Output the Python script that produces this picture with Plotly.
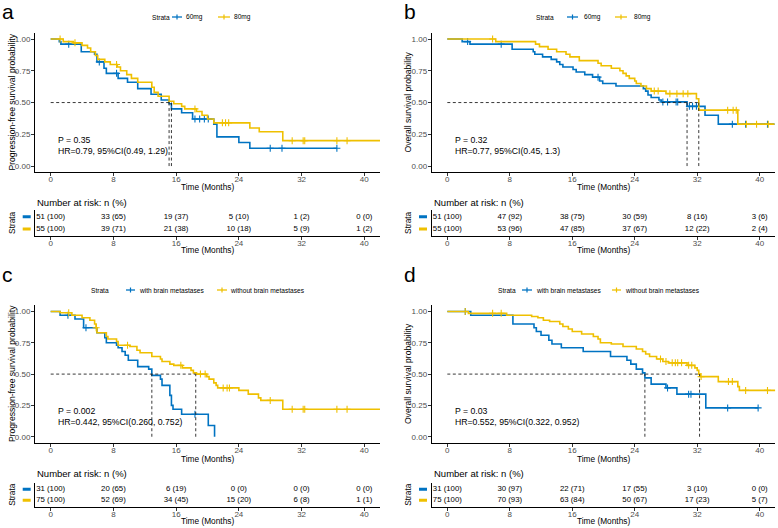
import plotly.graph_objects as go

W, H = 778, 528
BLUE = "#0073C2"
YELLOW = "#EFC000"
FONT = "Liberation Sans, Arial, sans-serif"

time_ticks = [0, 8, 16, 24, 32, 40]
surv_ticks = [0, 0.25, 0.5, 0.75, 1.0]

# ---------------- Panel a : PFS by dose ----------------
a_blue_t = [0, 1.1, 1.3, 3.9, 5.6, 5.9, 6.8, 7.1, 8.6, 9.8, 11.1, 12.8, 14.1, 15.1, 15.4, 16.7, 18.1, 20.8, 21.2, 24.0, 25.4, 36.5]
a_blue_s = [1, 0.98, 0.96, 0.90, 0.88, 0.82, 0.77, 0.73, 0.69, 0.66, 0.61, 0.565, 0.52, 0.49, 0.45, 0.42, 0.37, 0.33, 0.23, 0.185, 0.14, 0.14]
a_blue_c = [2.3, 6.2, 8.4, 18.4, 19.0, 19.6, 20.1, 28.0, 29.5, 36.5]
a_yel_t = [0, 1.6, 2.9, 4.0, 4.7, 5.1, 5.7, 6.0, 6.9, 7.6, 8.5, 8.9, 9.7, 10.3, 11.1, 12.9, 13.2, 13.7, 15.1, 15.7, 16.7, 17.1, 18.6, 19.3, 20.0, 20.8, 25.4, 26.6, 29.6, 42.0]
a_yel_s = [1, 0.98, 0.97, 0.95, 0.93, 0.90, 0.87, 0.84, 0.82, 0.80, 0.78, 0.75, 0.72, 0.69, 0.66, 0.62, 0.58, 0.55, 0.51, 0.49, 0.47, 0.45, 0.43, 0.40, 0.37, 0.34, 0.30, 0.27, 0.20, 0.20]
a_yel_c = [1.2, 3.1, 8.4, 18.4, 21.9, 22.3, 22.7, 30.8, 32.2, 32.4, 36.5, 37.8]
a_medians = [15.1, 15.4]
a_risk_blue = [51, 33, 19, 5, 1, 0]
a_pct_blue = [100, 65, 37, 10, 2, 0]
a_risk_yel = [55, 39, 21, 10, 5, 1]
a_pct_yel = [100, 71, 38, 18, 9, 2]

# ---------------- Panel b : OS by dose ----------------
b_blue_t = [0, 1.9, 2.9, 8.3, 11.0, 11.2, 12.2, 13.3, 14.0, 14.4, 14.8, 16.1, 16.5, 17.6, 18.6, 19.5, 19.9, 21.6, 25.1, 25.4, 25.7, 26.1, 27.1, 27.4, 30.7, 33.0, 34.7, 41.9]
b_blue_s = [1, 0.98, 0.96, 0.92, 0.90, 0.88, 0.86, 0.84, 0.82, 0.80, 0.78, 0.76, 0.74, 0.72, 0.70, 0.67, 0.65, 0.63, 0.61, 0.59, 0.56, 0.54, 0.52, 0.505, 0.47, 0.40, 0.33, 0.33]
b_blue_c = [2.6, 6.9, 19.3, 27.6, 28.2, 29.3, 29.5, 31.0, 31.4, 31.9, 36.5, 38.2, 41.0]
b_yel_t = [0, 6.2, 11.3, 11.8, 12.9, 14.0, 15.2, 15.7, 16.9, 19.3, 19.7, 21.0, 22.1, 22.5, 22.9, 23.3, 24.0, 24.2, 24.8, 25.5, 26.1, 28.0, 31.9, 32.2, 37.2, 41.9]
b_yel_s = [1, 0.98, 0.96, 0.94, 0.92, 0.90, 0.88, 0.86, 0.83, 0.81, 0.79, 0.77, 0.75, 0.73, 0.71, 0.69, 0.67, 0.65, 0.63, 0.61, 0.59, 0.57, 0.53, 0.44, 0.33, 0.33]
b_yel_c = [5.8, 26.5, 27.0, 28.5, 29.4, 30.2, 30.8, 35.9, 36.6, 37.0, 38.3, 39.6, 41.1]
b_medians = [30.7, 32.2]
b_risk_blue = [51, 47, 38, 30, 8, 3]
b_pct_blue = [100, 92, 75, 59, 16, 6]
b_risk_yel = [55, 53, 47, 37, 12, 2]
b_pct_yel = [100, 96, 85, 67, 22, 4]

# ---------------- Panel c : PFS by brain metastases ----------------
c_blue_t = [0, 1.2, 3.1, 4.2, 5.9, 6.9, 7.1, 8.4, 8.6, 9.1, 9.5, 9.9, 11.1, 12.5, 12.9, 14.0, 14.2, 15.2, 15.4, 15.6, 16.7, 20.1, 20.9]
c_blue_s = [1, 0.97, 0.94, 0.87, 0.83, 0.79, 0.75, 0.73, 0.71, 0.68, 0.65, 0.61, 0.56, 0.54, 0.49, 0.46, 0.41, 0.33, 0.25, 0.22, 0.18, 0.09, 0.0]
c_blue_c = [2.2, 4.5, 18.4]
c_yel_t = [0, 1.2, 2.7, 4.0, 5.0, 5.6, 5.8, 5.9, 7.1, 7.3, 8.4, 8.6, 10.1, 11.0, 11.4, 12.9, 14.0, 14.2, 15.2, 15.7, 16.8, 17.9, 18.2, 18.6, 19.9, 20.2, 20.8, 21.1, 21.3, 24.0, 25.2, 26.5, 26.8, 29.6, 42.0]
c_yel_s = [1, 0.99, 0.97, 0.95, 0.93, 0.90, 0.87, 0.83, 0.80, 0.78, 0.76, 0.73, 0.72, 0.69, 0.67, 0.64, 0.62, 0.60, 0.58, 0.57, 0.55, 0.53, 0.51, 0.50, 0.48, 0.46, 0.43, 0.41, 0.39, 0.37, 0.34, 0.31, 0.29, 0.22, 0.22]
c_yel_c = [2.3, 5.8, 9.8, 16.6, 19.1, 19.7, 22.0, 22.5, 22.8, 28.0, 30.8, 32.2, 32.4, 36.5, 37.8]
c_medians = [12.9, 18.5]
c_risk_blue = [31, 20, 6, 0, 0, 0]
c_pct_blue = [100, 65, 19, 0, 0, 0]
c_risk_yel = [75, 52, 34, 15, 6, 1]
c_pct_yel = [100, 69, 45, 20, 8, 1]

# ---------------- Panel d : OS by brain metastases ----------------
d_blue_t = [0, 3.0, 8.4, 11.1, 11.4, 12.0, 13.0, 13.4, 14.6, 17.4, 20.9, 23.0, 23.5, 24.2, 25.0, 25.3, 26.1, 28.0, 29.4, 33.1, 39.8]
d_blue_s = [1, 0.97, 0.90, 0.87, 0.84, 0.81, 0.77, 0.74, 0.71, 0.68, 0.64, 0.61, 0.58, 0.54, 0.51, 0.47, 0.42, 0.39, 0.34, 0.23, 0.23]
d_blue_c = [2.3, 28.2, 30.9, 31.2, 35.9, 39.8]
d_yel_t = [0, 2.7, 7.6, 10.8, 11.6, 12.3, 13.1, 14.4, 14.8, 15.5, 16.0, 17.2, 18.7, 19.3, 19.6, 21.0, 22.5, 24.2, 25.0, 25.4, 25.9, 26.8, 27.6, 28.3, 30.7, 31.7, 32.0, 32.2, 32.4, 34.7, 37.2, 37.4, 42.0]
d_yel_s = [1, 0.985, 0.97, 0.96, 0.95, 0.93, 0.92, 0.90, 0.88, 0.86, 0.84, 0.82, 0.80, 0.78, 0.75, 0.74, 0.72, 0.70, 0.68, 0.66, 0.64, 0.62, 0.60, 0.59, 0.57, 0.55, 0.53, 0.50, 0.48, 0.44, 0.40, 0.37, 0.37]
d_yel_c = [2.3, 5.8, 6.9, 27.3, 28.0, 28.8, 29.2, 29.5, 30.0, 30.9, 31.3, 32.5, 36.0, 36.5, 38.2, 41.0]
d_medians = [25.3, 32.3]
d_risk_blue = [31, 30, 22, 17, 3, 0]
d_pct_blue = [100, 97, 71, 55, 10, 0]
d_risk_yel = [75, 70, 63, 50, 17, 5]
d_pct_yel = [100, 93, 84, 67, 23, 7]

dose_labels = ["60mg", "80mg"]
brain_labels = ["with brain metastases", "without brain metastases"]
pfs_title = "Progression-free survival probability"
os_title = "Overall survival probability"

panels = [
    dict(letter="a", col=0, row=0, ytitle=pfs_title, labels=dose_labels,
         bt=a_blue_t, bs=a_blue_s, bc=a_blue_c, yt=a_yel_t, ys=a_yel_s, yc=a_yel_c, med=a_medians,
         rb=a_risk_blue, pb=a_pct_blue, ry=a_risk_yel, py=a_pct_yel,
         p="P = 0.35", hr="HR=0.79, 95%CI(0.49, 1.29)",
         leg=dict(strata=161, b0=172, b1=182, bl=184, y0=218, y1=230, yl=232)),
    dict(letter="b", col=1, row=0, ytitle=os_title, labels=dose_labels,
         bt=b_blue_t, bs=b_blue_s, bc=b_blue_c, yt=b_yel_t, ys=b_yel_s, yc=b_yel_c, med=b_medians,
         rb=b_risk_blue, pb=b_pct_blue, ry=b_risk_yel, py=b_pct_yel,
         p="P = 0.32", hr="HR=0.77, 95%CI(0.45, 1.3)",
         leg=dict(strata=545, b0=567, b1=578, bl=582, y0=615, y1=627, yl=632)),
    dict(letter="c", col=0, row=1, ytitle=pfs_title, labels=brain_labels,
         bt=c_blue_t, bs=c_blue_s, bc=c_blue_c, yt=c_yel_t, ys=c_yel_s, yc=c_yel_c, med=c_medians,
         rb=c_risk_blue, pb=c_pct_blue, ry=c_risk_yel, py=c_pct_yel,
         p="P = 0.002", hr="HR=0.442, 95%CI(0.260, 0.752)",
         leg=dict(strata=100, b0=126, b1=135, bl=137, y0=217, y1=227, yl=228)),
    dict(letter="d", col=1, row=1, ytitle=os_title, labels=brain_labels,
         bt=d_blue_t, bs=d_blue_s, bc=d_blue_c, yt=d_yel_t, ys=d_yel_s, yc=d_yel_c, med=d_medians,
         rb=d_risk_blue, pb=d_pct_blue, ry=d_risk_yel, py=d_pct_yel,
         p="P = 0.03", hr="HR=0.552, 95%CI(0.322, 0.952)",
         leg=dict(strata=507, b0=522, b1=532, bl=534, y0=612, y1=621, yl=623)),
]

# geometry (pixels)
COL_X = [(35, 380), (431.7, 775.3)]
MAIN_Y = [(32.7, 172.4), (305.2, 443.0)]
RISK_Y = [(209.5, 236.3), (482.7, 506.9)]
XTITLE_Y = [186.7, 459.0]
RISKTITLE_Y = [202.0, 473.0]
RISKX_Y = [250.0, 521.0]
LEG_Y = [17.0, 290.0]
LETTER_Y = [12.0, 274.0]
YTITLE_X = [12.0, 408.0]
DASH_X = [(22.7, 30.7), (419.0, 427.0)]
LETTER_X = [8.0, 410.0]


def px(x):
    return x / W


def py_(y):
    return 1 - y / H


def surv_at(t, times, surv):
    val = surv[0]
    for ti, si in zip(times, surv):
        if ti <= t:
            val = si
    return val


fig = go.Figure()
layout = dict(width=W, height=H, margin=dict(l=0, r=0, t=0, b=0),
              paper_bgcolor="white", plot_bgcolor="white", showlegend=False,
              font=dict(family=FONT, color="black"))
annotations = []
shapes = []

tickfont = dict(family=FONT, size=8, color="#4D4D4D")
DASH = "3px,2.5px"

for k, p in enumerate(panels):
    mi = 2 * k + 1
    ri = 2 * k + 2
    mx = "x" if mi == 1 else f"x{mi}"
    my = "y" if mi == 1 else f"y{mi}"
    rx = f"x{ri}"
    ry = f"y{ri}"
    mxk = "xaxis" if mi == 1 else f"xaxis{mi}"
    myk = "yaxis" if mi == 1 else f"yaxis{mi}"
    rxk = f"xaxis{ri}"
    ryk = f"yaxis{ri}"
    c, r = p["col"], p["row"]
    x0, x1 = COL_X[c]
    dom_x = [px(x0), px(x1)]

    common_x = dict(range=[-2, 42], tickvals=time_ticks, showgrid=False, zeroline=False,
                    showline=True, linecolor="black", linewidth=1, ticks="outside",
                    ticklen=3, tickcolor="#333333", tickwidth=1, tickfont=tickfont,
                    ticklabelstandoff=-4)
    layout[mxk] = dict(domain=dom_x, anchor=my, **common_x)
    layout[myk] = dict(domain=[py_(MAIN_Y[r][1]), py_(MAIN_Y[r][0])], anchor=mx,
                       range=[-0.05, 1.05], tickvals=surv_ticks, tickformat=".2f",
                       showgrid=False, zeroline=False, showline=True, linecolor="black",
                       linewidth=1, ticks="outside", ticklen=3, tickcolor="#333333",
                       tickwidth=1, tickfont=tickfont, ticklabelstandoff=-1)
    layout[rxk] = dict(domain=dom_x, anchor=ry, **common_x)
    layout[ryk] = dict(domain=[py_(RISK_Y[r][1]), py_(RISK_Y[r][0])], anchor=rx,
                       range=[0.4, 2.6], showticklabels=False, showgrid=False,
                       zeroline=False, showline=True, linecolor="black", linewidth=1,
                       ticks="")

    # median dashed lines
    mmax = max(p["med"])
    shapes.append(dict(type="line", xref=mx, yref=my, x0=0, x1=mmax, y0=0.5, y1=0.5,
                       line=dict(color="#222222", width=0.9, dash=DASH)))
    for m in p["med"]:
        shapes.append(dict(type="line", xref=mx, yref=my, x0=m, x1=m, y0=0, y1=0.5,
                           line=dict(color="#222222", width=0.9, dash=DASH)))

    # KM curves
    for times, surv, cens, col, name in [(p["bt"], p["bs"], p["bc"], BLUE, p["labels"][0]),
                                         (p["yt"], p["ys"], p["yc"], YELLOW, p["labels"][1])]:
        fig.add_trace(go.Scatter(x=times, y=surv, mode="lines", line=dict(color=col, width=1.6, shape="hv"),
                                 xaxis=mx, yaxis=my, name=name, hoverinfo="skip"))
        fig.add_trace(go.Scatter(x=cens, y=[surv_at(t, times, surv) for t in cens], mode="markers",
                                 marker=dict(symbol="cross-thin", size=5, line=dict(color=col, width=1.1)),
                                 xaxis=mx, yaxis=my, hoverinfo="skip"))

    # P / HR text
    annotations.append(dict(x=0.7, y=0.205, xref=mx, yref=my, text=p["p"], showarrow=False,
                            xanchor="left", yanchor="middle", font=dict(size=8.7, family=FONT, color="black")))
    annotations.append(dict(x=0.7, y=0.115, xref=mx, yref=my, text=p["hr"], showarrow=False,
                            xanchor="left", yanchor="middle", font=dict(size=8.7, family=FONT, color="black")))

    # risk table
    fig.add_trace(go.Scatter(x=time_ticks, y=[2] * len(time_ticks), mode="text",
                             text=[f"{n} ({q})" for n, q in zip(p["rb"], p["pb"])],
                             textfont=dict(size=7.8, family=FONT, color="black"),
                             xaxis=rx, yaxis=ry, hoverinfo="skip"))
    fig.add_trace(go.Scatter(x=time_ticks, y=[1] * len(time_ticks), mode="text",
                             text=[f"{n} ({q})" for n, q in zip(p["ry"], p["py"])],
                             textfont=dict(size=7.8, family=FONT, color="black"),
                             xaxis=rx, yaxis=ry, hoverinfo="skip"))
    dx0, dx1 = DASH_X[c]
    shapes.append(dict(type="line", xref="paper", yref=ry, x0=px(dx0), x1=px(dx1), y0=2, y1=2,
                       line=dict(color=BLUE, width=3)))
    shapes.append(dict(type="line", xref="paper", yref=ry, x0=px(dx0), x1=px(dx1), y0=1, y1=1,
                       line=dict(color=YELLOW, width=3)))

    # titles
    xmid = px((x0 + x1) / 2)
    annotations.append(dict(x=xmid, y=py_(XTITLE_Y[r]), xref="paper", yref="paper", text="Time (Months)",
                            showarrow=False, xanchor="center", yanchor="middle",
                            font=dict(size=8.3, family=FONT, color="black")))
    annotations.append(dict(x=xmid, y=py_(RISKX_Y[r]), xref="paper", yref="paper", text="Time (Months)",
                            showarrow=False, xanchor="center", yanchor="middle",
                            font=dict(size=8.3, family=FONT, color="black")))
    annotations.append(dict(x=px(x0), y=py_(RISKTITLE_Y[r]), xref="paper", yref="paper",
                            text="Number at risk: n (%)", showarrow=False, xanchor="left", yanchor="middle",
                            font=dict(size=9.5, family=FONT, color="black")))
    annotations.append(dict(x=px(YTITLE_X[c]), y=py_((MAIN_Y[r][0] + MAIN_Y[r][1]) / 2), xref="paper",
                            yref="paper", text=p["ytitle"], textangle=-90, showarrow=False,
                            xanchor="center", yanchor="middle", font=dict(size=8.6, family=FONT, color="black")))
    annotations.append(dict(x=px(YTITLE_X[c]), y=py_((RISK_Y[r][0] + RISK_Y[r][1]) / 2), xref="paper",
                            yref="paper", text="Strata", textangle=-90, showarrow=False,
                            xanchor="center", yanchor="middle", font=dict(size=8.3, family=FONT, color="black")))
    annotations.append(dict(x=px(LETTER_X[c]), y=py_(LETTER_Y[r]), xref="paper", yref="paper",
                            text=p["letter"], showarrow=False, xanchor="center", yanchor="middle",
                            font=dict(size=21, family=FONT, color="black")))

    # legend
    lg = p["leg"]
    ly = py_(LEG_Y[r])
    annotations.append(dict(x=px(lg["strata"]), y=ly, xref="paper", yref="paper", text="Strata",
                            showarrow=False, xanchor="center", yanchor="middle",
                            font=dict(size=6.6, family=FONT, color="black")))
    for s0, s1, lx, col, lab in [(lg["b0"], lg["b1"], lg["bl"], BLUE, p["labels"][0]),
                                 (lg["y0"], lg["y1"], lg["yl"], YELLOW, p["labels"][1])]:
        shapes.append(dict(type="line", xref="paper", yref="paper", x0=px(s0), x1=px(s1), y0=ly, y1=ly,
                           line=dict(color=col, width=1.3)))
        cx = (s0 + s1) / 2
        shapes.append(dict(type="line", xref="paper", yref="paper", x0=px(cx), x1=px(cx),
                           y0=py_(LEG_Y[r] - 2.5), y1=py_(LEG_Y[r] + 2.5),
                           line=dict(color=col, width=1.2)))
        annotations.append(dict(x=px(lx), y=ly, xref="paper", yref="paper", text=lab, showarrow=False,
                                xanchor="left", yanchor="middle",
                                font=dict(size=6.6, family=FONT, color="black")))

layout["annotations"] = annotations
layout["shapes"] = shapes
fig.update_layout(**layout)
fig.write_html("out.html",
               config={"displayModeBar": False, "staticPlot": True},
               post_script="document.body.style.margin='0px';document.body.style.padding='0px';"
                           "document.body.style.overflow='hidden';")
